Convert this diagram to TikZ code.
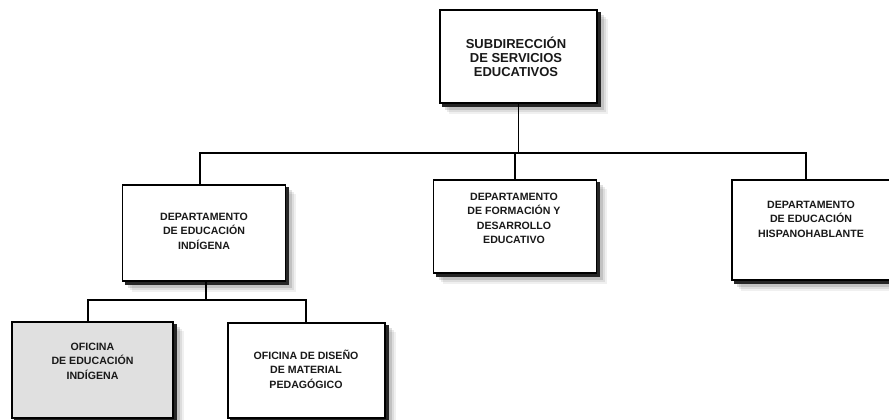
\documentclass[tikz,border=0pt]{standalone}
\usepackage{fontspec}
\setmainfont{Liberation Sans}
\usetikzlibrary{calc,backgrounds}
\newcommand{\boxshadow}[1]{%
  \fill[black,opacity=0.06] ($(#1.north west)+(10,10)$) rectangle ($(#1.south east)+(10,10)$);
  \fill[black,opacity=0.08] ($(#1.north west)+(8,8)$) rectangle ($(#1.south east)+(8,8)$);
  \fill[black,opacity=0.12] ($(#1.north west)+(6,6)$) rectangle ($(#1.south east)+(6,6)$);
  \fill[black!85] ($(#1.north west)+(3,3)$) rectangle ($(#1.south east)+(3,3)$);}
\begin{document}
\begin{tikzpicture}[x=1pt,y=-1pt,
  orgbox/.style={rectangle, draw=black, line width=1.2pt, fill=white, inner sep=0pt},
  graybox/.style={orgbox, fill=black!12},
  txt/.style={align=center, text=black!90, font=\bfseries\fontsize{10.6}{14.5}\selectfont, inner sep=0pt},
  bigtxt/.style={txt, font=\bfseries\fontsize{13}{14}\selectfont},
  conn/.style={draw=black, line width=1.6pt}]
\useasboundingbox (0,0) rectangle (889,420);
\clip (0,0) rectangle (889,420);

% boxes
\node[orgbox, minimum width=157pt, minimum height=93pt] (top) at (518.5,56.5) {};
\node[orgbox, minimum width=163pt, minimum height=96pt] (d1) at (204,233) {};
\node[orgbox, minimum width=163pt, minimum height=93pt] (d2) at (515,226.5) {};
\node[orgbox, minimum width=160pt, minimum height=100pt] (d3) at (812,230) {};
\node[graybox, minimum width=161pt, minimum height=96pt] (o1) at (92.5,370) {};
\node[orgbox, minimum width=157pt, minimum height=95pt] (o2) at (306.5,370.5) {};

\begin{scope}[on background layer]
  \boxshadow{top}\boxshadow{d1}\boxshadow{d2}\boxshadow{d3}\boxshadow{o1}\boxshadow{o2}
\end{scope}

% texts
\node[bigtxt] (t0) at (516,57) {SUBDIRECCIÓN\\DE SERVICIOS\\EDUCATIVOS};
\node[txt] (t1) at (204,231) {DEPARTAMENTO\\DE EDUCACIÓN\\INDÍGENA};
\node[txt] (t2) at (514,218.5) {DEPARTAMENTO\\DE FORMACIÓN Y\\DESARROLLO\\EDUCATIVO};
\node[txt] (t3) at (811,219) {DEPARTAMENTO\\DE EDUCACIÓN\\HISPANOHABLANTE};
\node[txt] (t4) at (92.5,361) {OFICINA\\DE EDUCACIÓN\\INDÍGENA};
\node[txt] (t5) at (306,369) {OFICINA DE DISEÑO\\DE MATERIAL\\PEDAGÓGICO};

% connector coordinates
\coordinate (busA) at (200,153);
\coordinate (busB) at (806,153);
\coordinate (busC) at (88,300);
\coordinate (busD) at (306,300);
\coordinate (d1b) at (206,300);

% connectors
\draw[conn] (top.south) -- (top.south |- busA);
\draw[conn] (busA |- d1.north) -- (busA) -- (busB) -- (busB |- d3.north);
\draw[conn] (d2.north) -- (d2.north |- busA);
\draw[conn] (d1b |- d1.south) -- (d1b);
\draw[conn] (busC |- o1.north) -- (busC) -- (busD) -- (busD |- o2.north);
\end{tikzpicture}
\end{document}
